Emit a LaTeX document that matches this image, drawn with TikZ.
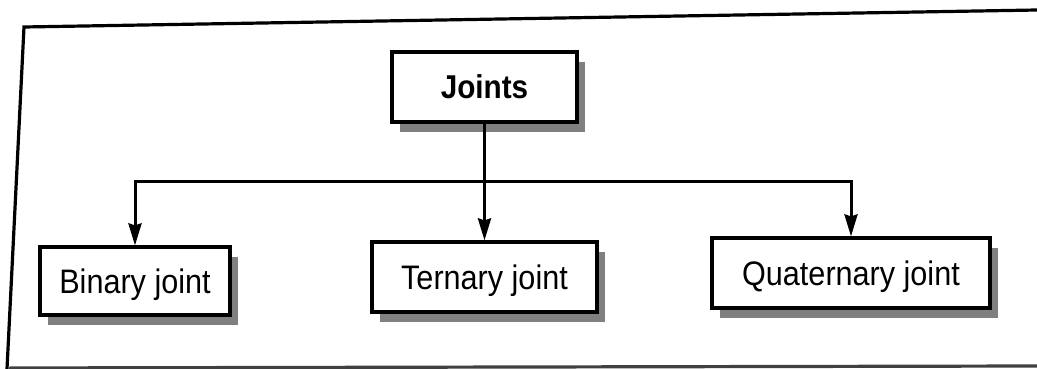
\documentclass[tikz,border=0pt]{standalone}
\usepackage{fontspec}
\setmainfont{Liberation Sans}[FakeStretch=0.9]
\usetikzlibrary{arrows.meta,shadows}
\begin{document}
\begin{tikzpicture}[x=1pt,y=-1pt,
  box/.style={draw=black, line width=3.2pt, fill=white, inner sep=0pt,
    minimum height=70pt, text height=24pt, text depth=0pt,
    font=\fontsize{34}{38}\selectfont,
    drop shadow={shadow xshift=8pt, shadow yshift=-10pt, fill=black!50, opacity=1}},
  frameline/.style={line width=3.2pt, line cap=round, line join=miter},
  conn/.style={line width=3pt, line join=miter},
  tip/.tip={Stealth[length=22pt, width=13pt, inset=2pt]},
  arr/.style={conn, -tip},
  darr/.style={conn, tip-tip}
]
\useasboundingbox (0,0) rectangle (1037,369);
% outer frame (photographed page, slightly skewed)
\coordinate (fTR) at (1037,10);
\coordinate (fTL) at (24,27);
\coordinate (fBL) at (7,369);
\coordinate (fBLb) at (10,368);
\coordinate (fBR) at (1037,366);
\draw[frameline] (fTR) -- (fTL) -- (fBL);
\draw[frameline, black!75] (fBLb) -- (fBR);

% nodes
\node[box, minimum width=185pt, font=\bfseries\fontsize{33}{38}\selectfont] (j) at (484.5,87) {Joints};
\node[box, minimum width=190pt, minimum height=68pt] (b) at (135,281) {Binary joint};
\node[box, minimum width=225pt] (t) at (484.5,277) {Ternary joint};
\node[box, minimum width=278pt] (q) at (851,273) {Quaternary joint};

% connectors
\coordinate (hub) at (484.5,181);
\draw[arr] (j.south) -- (t.north);
\draw[darr] (b.north) |- (hub) -| (q.north);
\end{tikzpicture}
\end{document}
